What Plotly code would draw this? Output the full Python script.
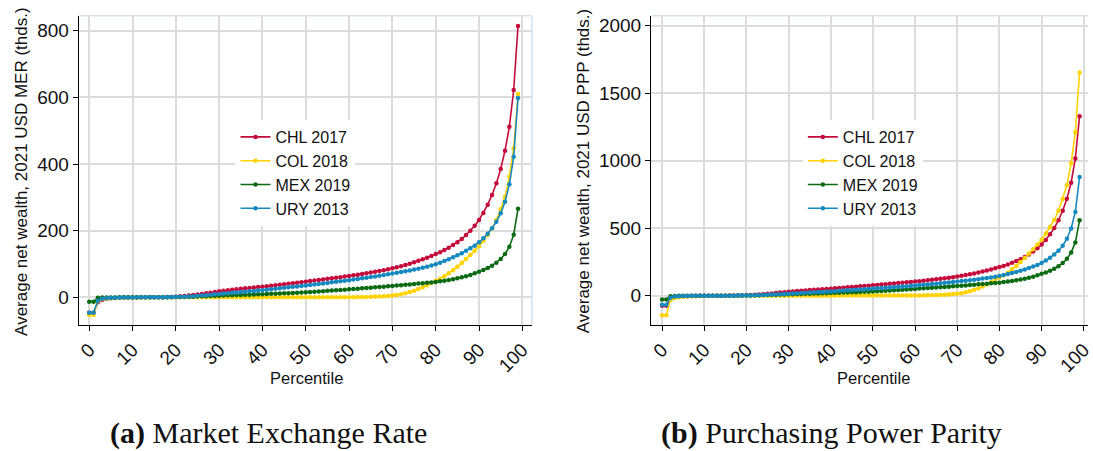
import plotly.graph_objects as go

percentile = list(range(100))

chl_mer = [-46, -46, -15, -8, -5, -3, -2, -1.2, -0.8, -0.5,
           -0.3, -0.2, -0.1, 0, 0.1, 0.2, 0.4, 0.6, 0.9, 1.3,
           2, 3, 4, 5.2, 6.8, 8.5, 10.2, 12, 14, 16,
           18, 19.5, 21, 22.5, 24, 25.5, 27, 28.2, 29.4, 30.7,
           32, 33.5, 35, 36.5, 38, 39.5, 41, 42.5, 44, 45.5,
           47, 48.7, 50.4, 52.1, 53.8, 55.5, 57.2, 58.9, 60.6, 62.3,
           64, 66, 68, 70, 72.2, 74.4, 76.6, 79, 81.4, 84,
           87, 90, 93.5, 97, 101, 105, 109.5, 114, 119, 124,
           130, 135, 142, 149, 157, 165, 175, 187, 200, 215,
           232, 253, 278, 307, 342, 385, 440, 512, 622, 814]

col_mer = [-53, -53, -12, -6, -4, -3, -2.2, -1.6, -1.2, -0.9,
           -0.7, -0.5, -0.4, -0.3, -0.2, -0.1, 0, 0, 0, 0,
           0, 0, 0.1, 0.1, 0.1, 0.1, 0.1, 0.1, 0.1, 0.1,
           0.1, 0.1, 0.2, 0.2, 0.2, 0.2, 0.2, 0.2, 0.2, 0.2,
           0.2, 0.2, 0.3, 0.3, 0.3, 0.3, 0.3, 0.3, 0.3, 0.3,
           0.3, 0.3, 0.4, 0.4, 0.4, 0.4, 0.4, 0.4, 0.5, 0.5,
           0.5, 0.6, 0.8, 1.0, 1.3, 1.7, 2.2, 2.8, 3.5, 4.3,
           5.3, 7, 9.5, 12.5, 16, 20, 25, 30.5, 36.5, 43,
           50, 56, 63, 72, 81, 92, 103, 115, 127, 140,
           153, 170, 187, 207, 232, 264, 302, 362, 447, 610]

mex_mer = [-13, -13, -1.5, -0.8, -0.5, -0.3, -0.2, -0.1, 0, 0,
           0, 0, 0, 0, 0, 0, 0.1, 0.2, 0.3, 0.5,
           0.7, 1.0, 1.3, 1.7, 2.1, 2.6, 3.0, 3.5, 4.0, 4.5,
           5.0, 5.5, 6.0, 6.4, 6.8, 7.2, 7.6, 8.0, 8.5, 9.0,
           9.5, 10.0, 10.5, 11.0, 11.5, 12.0, 12.6, 13.2, 13.8, 14.4,
           15.0, 15.9, 16.8, 17.7, 18.6, 19.5, 20.4, 21.3, 22.2, 23.1,
           24, 25, 26, 27, 28, 29, 30, 31, 32, 33,
           34, 35.2, 36.4, 37.6, 38.8, 40, 41.2, 42.4, 43.6, 44.8,
           46, 48, 50, 52, 54.5, 57, 60, 63, 67, 72,
           77, 82, 88, 95, 104, 115, 130, 152, 188, 266]

ury_mer = [-46, -46, -10, -4, -2.5, -1.5, -1, -0.7, -0.5, -0.3,
           -0.2, -0.1, 0, 0, 0, 0, 0.1, 0.2, 0.4, 0.7,
           1.0, 1.5, 2.1, 2.8, 3.6, 4.5, 5.5, 6.6, 7.8, 9.0,
           10.3, 11.5, 12.6, 13.7, 14.8, 15.9, 17.0, 18.1, 19.2, 20.4,
           21.6, 23.0, 24.4, 25.8, 27.2, 28.6, 30.0, 31.4, 32.8, 34.3,
           35.8, 37.3, 38.8, 40.3, 41.8, 43.3, 44.9, 46.5, 48.1, 49.8,
           51.5, 53.3, 55.1, 56.9, 58.8, 60.7, 62.7, 64.7, 66.8, 69.0,
           71.2, 73.5, 75.8, 78.2, 80.7, 83.3, 86.1, 89.0, 92.0, 95.3,
           99, 104, 109, 114, 120, 126, 132, 140, 147, 155,
           165, 177, 191, 207, 227, 252, 287, 339, 422, 598]

chl_ppp = [-75, -75, -24.5, -13.1, -8.2, -4.9, -3.3, -2.0, -1.3, -0.8,
           -0.5, -0.3, -0.2, 0, 0.2, 0.3, 0.7, 1.0, 1.5, 2.1,
           3.3, 4.9, 6.5, 8.5, 11.1, 13.9, 16.7, 19.6, 22.9, 26.1,
           29.4, 31.9, 34.3, 36.8, 39.2, 41.7, 44.1, 46.1, 48.0, 50.2,
           52.3, 54.7, 57.2, 59.6, 62.1, 64.5, 67.0, 69.4, 71.9, 74.3,
           76.8, 79.6, 82.4, 85.1, 87.9, 90.7, 93.5, 96.2, 99.0, 101.8,
           104.6, 107.8, 111.1, 114.4, 118.0, 121.6, 125.2, 129.1, 133.0, 137.3,
           142.2, 147.1, 152.8, 158.5, 165.0, 171.6, 178.9, 186.3, 194.4, 202.6,
           212.4, 220.6, 232.0, 243.5, 256.5, 269.6, 286.0, 305.6, 326.8, 351.3,
           379.1, 413.4, 454.3, 501.6, 558.8, 629.1, 719.0, 836.6, 1016.3, 1330.1]

col_ppp = [-144, -144, -32.5, -16.3, -10.8, -8.1, -6.0, -4.3, -3.3, -2.4,
           -1.9, -1.4, -1.1, -0.8, -0.5, -0.3, 0, 0, 0, 0,
           0, 0, 0.3, 0.3, 0.3, 0.3, 0.3, 0.3, 0.3, 0.3,
           0.3, 0.3, 0.5, 0.5, 0.5, 0.5, 0.5, 0.5, 0.5, 0.5,
           0.5, 0.5, 0.8, 0.8, 0.8, 0.8, 0.8, 0.8, 0.8, 0.8,
           0.8, 0.8, 1.1, 1.1, 1.1, 1.1, 1.1, 1.1, 1.4, 1.4,
           1.4, 1.6, 2.2, 2.7, 3.5, 4.6, 6.0, 7.6, 9.5, 11.7,
           14.4, 19.0, 25.7, 33.9, 43.4, 54.2, 67.8, 82.7, 98.9, 116.5,
           135.5, 151.8, 170.7, 195.1, 219.5, 249.3, 279.1, 311.7, 344.2, 379.4,
           414.6, 460.7, 506.8, 561.0, 628.7, 715.4, 818.4, 981.0, 1211.4, 1653.1]

mex_ppp = [-27.3, -27.3, -3.2, -1.7, -1.1, -0.6, -0.4, -0.2, 0, 0,
           0, 0, 0, 0, 0, 0, 0.2, 0.4, 0.6, 1.1,
           1.5, 2.1, 2.7, 3.6, 4.4, 5.5, 6.3, 7.4, 8.4, 9.5,
           10.5, 11.6, 12.6, 13.4, 14.3, 15.1, 16.0, 16.8, 17.9, 18.9,
           20.0, 21.0, 22.1, 23.1, 24.2, 25.2, 26.5, 27.7, 29.0, 30.2,
           31.5, 33.4, 35.3, 37.2, 39.1, 41.0, 42.8, 44.7, 46.6, 48.5,
           50.4, 52.5, 54.6, 56.7, 58.8, 60.9, 63.0, 65.1, 67.2, 69.3,
           71.4, 73.9, 76.4, 79.0, 81.5, 84.0, 86.5, 89.0, 91.6, 94.1,
           96.6, 100.8, 105.0, 109.2, 114.5, 119.7, 126.0, 132.3, 140.7, 151.2,
           161.7, 172.2, 184.8, 199.5, 218.4, 241.5, 273.0, 319.2, 394.8, 558.6]

ury_ppp = [-67.6, -67.6, -14.7, -5.9, -3.7, -2.2, -1.5, -1.0, -0.7, -0.4,
           -0.3, -0.1, 0, 0, 0, 0, 0.1, 0.3, 0.6, 1.0,
           1.5, 2.2, 3.1, 4.1, 5.3, 6.6, 8.1, 9.7, 11.5, 13.2,
           15.1, 16.9, 18.5, 20.1, 21.8, 23.4, 25.0, 26.6, 28.2, 30.0,
           31.8, 33.8, 35.9, 37.9, 40.0, 42.0, 44.1, 46.2, 48.2, 50.4,
           52.6, 54.8, 57.0, 59.2, 61.4, 63.7, 66.0, 68.4, 70.7, 73.2,
           75.7, 78.4, 81.0, 83.6, 86.4, 89.2, 92.2, 95.1, 98.2, 101.4,
           104.7, 108.0, 111.4, 115.0, 118.6, 122.5, 126.6, 130.8, 135.2, 140.1,
           145.5, 152.9, 160.2, 167.6, 176.4, 185.2, 194.0, 205.8, 216.1, 227.9,
           242.6, 260.2, 280.8, 304.3, 333.7, 370.4, 421.9, 498.3, 620.3, 879.1]

series_names = ["CHL 2017", "COL 2018", "MEX 2019", "URY 2013"]
series_colors = ["#C50A3C", "#FFD200", "#0B6A12", "#1689C0"]
mer_values = [chl_mer, col_mer, mex_mer, ury_mer]
ppp_values = [chl_ppp, col_ppp, mex_ppp, ury_ppp]

x_ticks = list(range(0, 101, 10))
mer_ticks = [0, 200, 400, 600, 800]
ppp_ticks = [0, 500, 1000, 1500, 2000]
captions = ["<b>(a)</b> Market Exchange Rate", "<b>(b)</b> Purchasing Power Parity"]
y_titles = ["Average net wealth, 2021 USD MER (thds.)",
            "Average net wealth, 2021 USD PPP (thds.)"]
x_title = "Percentile"

W, H = 1093, 451
FONT = "Liberation Sans, Arial, sans-serif"

fig = go.Figure()
for name, color, vals in zip(series_names, series_colors, mer_values):
    fig.add_trace(go.Scatter(x=percentile, y=vals, name=name, mode="lines+markers",
                             line=dict(color=color, width=1.6),
                             marker=dict(color=color, size=4.5),
                             xaxis="x", yaxis="y", legend="legend"))
for name, color, vals in zip(series_names, series_colors, ppp_values):
    fig.add_trace(go.Scatter(x=percentile, y=vals, name=name, mode="lines+markers",
                             line=dict(color=color, width=1.6),
                             marker=dict(color=color, size=4.5),
                             xaxis="x2", yaxis="y2", legend="legend2"))

yb, yt = (H - 325) / H, (H - 15.7) / H
lx0, lx1 = 77.3 / W, 533.3 / W
rx0, rx1 = 653.3 / W, 1.0

common_x = dict(tickmode="array", tickvals=x_ticks, tickangle=-45,
                showgrid=True, gridcolor="#DCDCDC", gridwidth=2, zeroline=False,
                showline=True, linecolor="black", linewidth=1.3,
                ticks="outside", ticklen=5, tickcolor="black",
                ticklabeloverflow="allow",
                tickfont=dict(family=FONT, size=19, color="#111111"))
common_y = dict(tickmode="array", showgrid=True, gridcolor="#DCDCDC", gridwidth=2,
                zeroline=False, showline=True, linecolor="black", linewidth=1.3,
                ticks="outside", ticklen=5, tickcolor="black",
                tickfont=dict(family=FONT, size=19, color="#111111"))

legend_common = dict(bgcolor="white", borderwidth=0, font=dict(family=FONT, size=16, color="#111111"),
                     xanchor="left", yanchor="top", tracegroupgap=0, itemwidth=30)

fig.update_layout(
    width=W, height=H, margin=dict(l=0, r=0, t=0, b=0),
    paper_bgcolor="white", plot_bgcolor="white",
    xaxis=dict(domain=[lx0, lx1], range=[-2.4, 102.2], anchor="y", **common_x),
    yaxis=dict(domain=[yb, yt], range=[-83, 845], tickvals=mer_ticks, anchor="x", **common_y),
    xaxis2=dict(domain=[rx0, rx1], range=[-2.6, 101.0], anchor="y2", **common_x),
    yaxis2=dict(domain=[yb, yt], range=[-217, 2074], tickvals=ppp_ticks, anchor="x2", **common_y),
    legend=dict(x=235 / W, y=(H - 120) / H, **legend_common),
    legend2=dict(x=806 / W, y=(H - 120) / H, **legend_common),
    showlegend=True,
)

# light plot-region border (top and right)
border = "#D5E3EF"
fig.add_shape(type="line", xref="paper", yref="paper", x0=lx0, x1=lx1, y0=yt, y1=yt,
              line=dict(color=border, width=1.5))
fig.add_shape(type="line", xref="paper", yref="paper", x0=lx1, x1=lx1, y0=yb, y1=yt,
              line=dict(color=border, width=1.5))
fig.add_shape(type="line", xref="paper", yref="paper", x0=rx0, x1=rx1, y0=yt, y1=yt,
              line=dict(color=border, width=1.5))

# axis titles
for xc, txt in [(19 / W, y_titles[0]), (585 / W, y_titles[1])]:
    fig.add_annotation(x=xc, y=(H - 171) / H, xref="paper", yref="paper", text=txt,
                       textangle=-90, showarrow=False, xanchor="center", yanchor="middle",
                       font=dict(family=FONT, size=17, color="#111111"))
for xc in [306 / W, 877 / W]:
    fig.add_annotation(x=xc, y=(H - 378) / H, xref="paper", yref="paper", text=x_title,
                       showarrow=False, xanchor="center", yanchor="middle",
                       font=dict(family=FONT, size=16.5, color="#111111"))

# captions
for xc, txt in [(268 / W, captions[0]), (835 / W, captions[1])]:
    fig.add_annotation(x=xc, y=(H - 433) / H, xref="paper", yref="paper", text=txt,
                       showarrow=False, xanchor="center", yanchor="middle",
                       font=dict(family="Liberation Serif, DejaVu Serif, serif", size=30, color="#111111"))

fig.write_html("out.html")
